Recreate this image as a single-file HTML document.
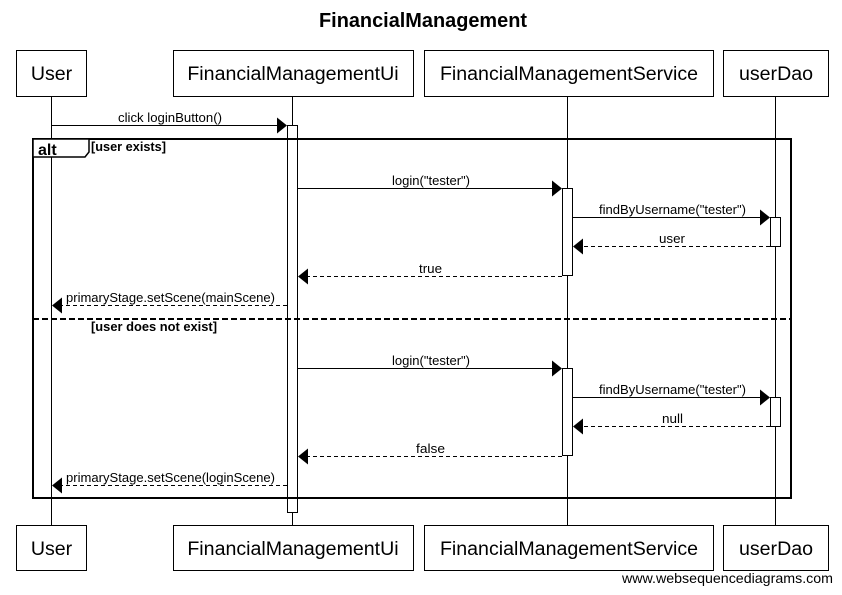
<!DOCTYPE html><html><head><style>body{margin:0;background:#fff}svg{display:block}text{font-family:"Liberation Sans",sans-serif}</style></head><body>
<svg width="842" height="595" viewBox="0 0 842 595" xmlns="http://www.w3.org/2000/svg">
<text x="423" y="27" font-size="20" font-weight="bold" text-anchor="middle" textLength="208" lengthAdjust="spacingAndGlyphs">FinancialManagement</text>
<g stroke="#000" stroke-width="1" fill="none">
<line x1="51.5" y1="96" x2="51.5" y2="525"/><line x1="292.5" y1="96" x2="292.5" y2="525"/><line x1="567.5" y1="96" x2="567.5" y2="525"/><line x1="775.5" y1="96" x2="775.5" y2="525"/>
</g>
<g stroke="#000" fill="#fff">
<rect x="16.5" y="50.5" width="70" height="46"/><rect x="173.5" y="50.5" width="240" height="46"/><rect x="424.5" y="50.5" width="289" height="46"/><rect x="723.5" y="50.5" width="105" height="46"/>
<rect x="16.5" y="525.5" width="70" height="45"/><rect x="173.5" y="525.5" width="240" height="45"/><rect x="424.5" y="525.5" width="289" height="45"/><rect x="723.5" y="525.5" width="105" height="45"/>
</g>
<g font-size="19.6" text-anchor="middle">
<text x="51.5" y="80">User</text><text x="293" y="80">FinancialManagementUi</text><text x="569" y="80">FinancialManagementService</text><text x="776" y="80">userDao</text>
<text x="51.5" y="555">User</text><text x="293" y="555">FinancialManagementUi</text><text x="569" y="555">FinancialManagementService</text><text x="776" y="555">userDao</text>
</g>
<g stroke="#000" fill="#fff">
<rect x="287.5" y="125.5" width="10" height="387"/>
<rect x="562.5" y="188.5" width="10" height="87"/><rect x="562.5" y="368.5" width="10" height="87"/>
<rect x="770.5" y="217.5" width="10" height="29"/><rect x="770.5" y="397.5" width="10" height="29"/>
</g>
<rect x="33" y="139" width="758" height="359" fill="none" stroke="#000" stroke-width="2"/>
<path d="M33 139 H89 V152 L85 157 H33 Z" fill="#fff" stroke="#000" stroke-width="1.5"/>
<text x="38" y="155" font-size="16" font-weight="bold">alt</text>
<text x="91" y="151" font-size="12.5" font-weight="bold" textLength="75" lengthAdjust="spacingAndGlyphs">[user exists]</text>
<line x1="33" y1="319" x2="791" y2="319" stroke="#000" stroke-width="2" stroke-dasharray="6,3"/>
<text x="91" y="331" font-size="12.5" font-weight="bold" textLength="126" lengthAdjust="spacingAndGlyphs">[user does not exist]</text>
<g stroke="#000" stroke-width="1">
<line x1="51" y1="125.5" x2="278" y2="125.5"/>
<line x1="297" y1="188.5" x2="553" y2="188.5"/><line x1="572" y1="217.5" x2="761" y2="217.5"/>
<line x1="297" y1="368.5" x2="553" y2="368.5"/><line x1="572" y1="397.5" x2="761" y2="397.5"/>
<g stroke-dasharray="4,3">
<line x1="770" y1="246.5" x2="582" y2="246.5"/><line x1="562" y1="276.5" x2="307" y2="276.5"/><line x1="287" y1="305.5" x2="61" y2="305.5"/>
<line x1="770" y1="426.5" x2="582" y2="426.5"/><line x1="562" y1="456.5" x2="307" y2="456.5"/><line x1="287" y1="485.5" x2="61" y2="485.5"/>
</g></g>
<g fill="#000">
<path d="M277 117.5 L287 125.5 L277 133.5Z"/>
<path d="M552 180.5 L562 188.5 L552 196.5Z"/><path d="M760 209.5 L770 217.5 L760 225.5Z"/>
<path d="M552 360.5 L562 368.5 L552 376.5Z"/><path d="M760 389.5 L770 397.5 L760 405.5Z"/>
<path d="M583 238.5 L573 246.5 L583 254.5Z"/><path d="M308 268.5 L298 276.5 L308 284.5Z"/><path d="M62 297.5 L52 305.5 L62 313.5Z"/>
<path d="M583 418.5 L573 426.5 L583 434.5Z"/><path d="M308 448.5 L298 456.5 L308 464.5Z"/><path d="M62 477.5 L52 485.5 L62 493.5Z"/>
</g>
<g font-size="13" lengthAdjust="spacingAndGlyphs">
<text x="118" y="122" textLength="104" lengthAdjust="spacingAndGlyphs">click loginButton()</text>
<text x="392" y="185" textLength="78" lengthAdjust="spacingAndGlyphs">login("tester")</text><text x="599" y="214" textLength="147" lengthAdjust="spacingAndGlyphs">findByUsername("tester")</text>
<text x="659" y="243" textLength="26" lengthAdjust="spacingAndGlyphs">user</text><text x="419" y="273" textLength="23" lengthAdjust="spacingAndGlyphs">true</text><text x="66" y="302" textLength="209" lengthAdjust="spacingAndGlyphs">primaryStage.setScene(mainScene)</text>
<text x="392" y="365" textLength="78" lengthAdjust="spacingAndGlyphs">login("tester")</text><text x="599" y="394" textLength="147" lengthAdjust="spacingAndGlyphs">findByUsername("tester")</text>
<text x="662" y="423" textLength="21" lengthAdjust="spacingAndGlyphs">null</text><text x="416" y="453" textLength="29" lengthAdjust="spacingAndGlyphs">false</text><text x="66" y="482" textLength="209" lengthAdjust="spacingAndGlyphs">primaryStage.setScene(loginScene)</text>
</g>
<text x="622" y="583" font-size="14" textLength="211" lengthAdjust="spacingAndGlyphs">www.websequencediagrams.com</text>
</svg></body></html>
